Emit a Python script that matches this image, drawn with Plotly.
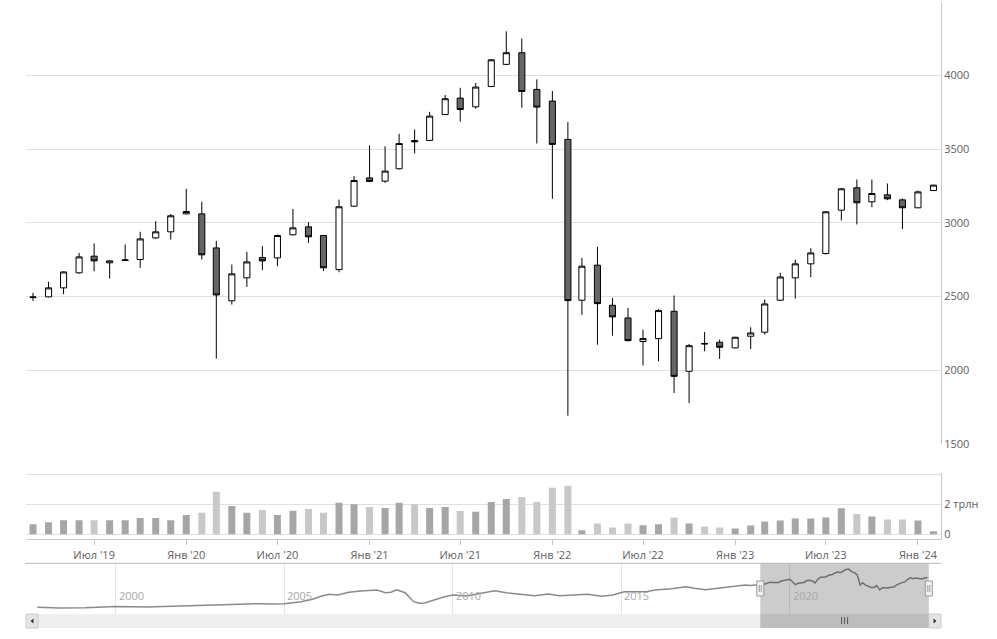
import pandas as pd
import plotly.graph_objects as go

# monthly candles, MOEX index, Mar 2019 - Feb 2024
months = pd.date_range("2019-03-01", "2024-02-01", freq="MS")

open_ = [2493, 2498, 2559, 2661, 2774, 2729, 2745, 2751, 2898, 2939,
         3061, 3061, 2830, 2471, 2627, 2765, 2762, 2919, 2973, 2914,
         2683, 3113, 3305, 3283, 3367, 3558, 3559, 3735, 3846, 3787,
         3925, 4075, 4154, 3905, 3826, 3566, 2475, 2713, 2441, 2355,
         2195, 2215, 2400, 1993, 2182, 2190, 2152, 2231, 2258, 2475,
         2627, 2722, 2792, 3086, 3238, 3143, 3190, 3156, 3102, 3219]
high = [2525, 2600, 2670, 2796, 2860, 2745, 2853, 2939, 3011, 3061,
        3231, 3143, 2878, 2717, 2803, 2842, 2921, 3095, 3005, 2918,
        3158, 3317, 3525, 3520, 3604, 3633, 3753, 3867, 3916, 3950,
        4110, 4299, 4251, 3973, 3894, 3683, 2762, 2837, 2491, 2423,
        2276, 2416, 2507, 2179, 2260, 2208, 2227, 2292, 2480, 2661,
        2751, 2828, 3080, 3235, 3294, 3294, 3267, 3165, 3219, 3258]
low = [2470, 2495, 2516, 2655, 2672, 2622, 2742, 2695, 2891, 2887,
       3058, 2751, 2079, 2446, 2566, 2679, 2706, 2915, 2864, 2672,
       2665, 3108, 3276, 3271, 3362, 3471, 3555, 3730, 3686, 3774,
       3920, 4070, 3781, 3538, 3163, 1692, 2376, 2174, 2235, 2197,
       2032, 2061, 1846, 1778, 2129, 2077, 2150, 2145, 2242, 2470,
       2486, 2631, 2785, 3016, 2989, 3106, 3154, 2959, 3100, 3217]
close = [2497, 2559, 2667, 2769, 2742, 2742, 2748, 2891, 2939, 3048,
         3077, 2783, 2511, 2654, 2735, 2742, 2914, 2966, 2905, 2695,
         3109, 3287, 3281, 3351, 3538, 3550, 3724, 3842, 3769, 3921,
         4106, 4154, 3891, 3785, 3532, 2473, 2706, 2452, 2362, 2201,
         2215, 2405, 1959, 2167, 2179, 2156, 2224, 2253, 2450, 2633,
         2722, 2796, 3075, 3231, 3136, 3199, 3163, 3102, 3210, 3256]

# trading volume, trillion rub
volume = [0.67, 0.81, 0.94, 0.94, 0.94, 0.94, 0.94, 1.08, 1.08, 0.94,
          1.28, 1.44, 2.83, 1.89, 1.44, 1.62, 1.28, 1.57, 1.69, 1.44,
          2.11, 2.00, 1.82, 1.75, 2.11, 2.00, 1.75, 1.82, 1.55, 1.51,
          2.16, 2.36, 2.49, 2.16, 3.10, 3.24, 0.27, 0.72, 0.45, 0.72,
          0.61, 0.67, 1.12, 0.72, 0.52, 0.45, 0.38, 0.58, 0.85, 0.92,
          1.06, 1.06, 1.12, 1.73, 1.35, 1.19, 0.99, 0.99, 0.92, 0.20]

tick_dates = ["2019-07-01", "2020-01-01", "2020-07-01", "2021-01-01", "2021-07-01",
              "2022-01-01", "2022-07-01", "2023-01-01", "2023-07-01", "2024-01-01"]
tick_labels = ["Июл '19", "Янв '20", "Июл '20", "Янв '21", "Июл '21",
               "Янв '22", "Июл '22", "Янв '23", "Июл '23", "Янв '24"]

# navigator history before the candles
hist_dates = ["1997-09", "1998-05", "1999-02", "2000-01", "2000-12", "2001-08", "2002-04",
              "2003-02", "2003-08", "2004-04", "2004-08", "2005-01", "2005-07", "2005-11",
              "2006-02", "2006-05", "2006-08", "2006-12", "2007-04", "2007-10", "2008-01",
              "2008-03", "2008-05", "2008-08", "2008-11", "2009-01", "2009-03", "2009-06",
              "2009-10", "2010-01", "2010-06", "2010-11", "2011-04", "2011-08", "2012-01",
              "2012-06", "2012-11", "2013-03", "2013-08", "2014-01", "2014-06", "2014-10",
              "2015-02", "2015-07", "2015-10", "2016-01", "2016-07", "2016-12", "2017-03",
              "2017-07", "2017-12", "2018-05", "2018-09", "2018-11"]
hist_close = [100, 40, 70, 180, 140, 220, 260,
              330, 400, 490, 456, 488, 700, 954,
              1272, 1484, 1410, 1696, 1834, 1940, 1654,
              1700, 1972, 1650, 700, 530, 560, 880,
              1230, 1410, 1300, 1590, 1865, 1654, 1484,
              1336, 1516, 1336, 1410, 1484, 1272, 1410,
              1760, 1728, 1760, 1940, 2078, 2290, 2120,
              1972, 2152, 2364, 2470, 2430]

nav_years = [2000, 2005, 2010, 2015, 2020]

x_start, x_end = "2019-02-15", "2024-02-16"

W, H = 997, 639


def fx(p):
    return p / W


def fy(p):
    return 1 - p / H


font = dict(family="Open Sans, DejaVu Sans, sans-serif", size=11, color="#606060")
vol_colors = ["#a6a6a6" if c >= o else "#c8c8c8" for o, c in zip(open_, close)]

fig = go.Figure()
fig.add_trace(go.Candlestick(
    x=months, open=open_, high=high, low=low, close=close,
    increasing=dict(fillcolor="white", line=dict(color="black", width=1)),
    decreasing=dict(fillcolor="#666666", line=dict(color="black", width=1)),
    whiskerwidth=0, xaxis="x", yaxis="y"))
fig.add_trace(go.Bar(
    x=months, y=volume, marker=dict(color=vol_colors, line=dict(width=0)),
    width=14 * 86400000, xaxis="x2", yaxis="y2"))
fig.add_trace(go.Scatter(
    x=pd.to_datetime(hist_dates).append(months), y=hist_close + close,
    mode="lines", line=dict(color="#8a8a8a", width=1.5), xaxis="x3", yaxis="y3"))

dom_x = [fx(26), fx(941)]
fig.update_layout(
    template="none", width=W, height=H, showlegend=False,
    margin=dict(l=0, r=0, t=0, b=0),
    paper_bgcolor="white", plot_bgcolor="white", boxgap=0.38,
    font=font,
    xaxis=dict(domain=dom_x, anchor="y", type="date", range=[x_start, x_end],
               showticklabels=False, showgrid=False, zeroline=False, showline=False,
               ticks="", rangeslider=dict(visible=False)),
    yaxis=dict(domain=[fy(444), fy(1.7)], anchor="x", side="right", range=[1500, 4500],
               tickvals=[1500, 2000, 2500, 3000, 3500, 4000, 4500],
               ticktext=["1500", "2000", "2500", "3000", "3500", "4000", ""],
               showgrid=True, gridcolor="#e0e0e0", gridwidth=1, zeroline=False,
               showline=True, linecolor="#c8c8c8", ticks="", tickfont=font),
    xaxis2=dict(domain=dom_x, anchor="y2", type="date", matches="x",
                tickvals=tick_dates, ticktext=tick_labels, ticks="outside", ticklen=5,
                tickcolor="#c8c8c8", showline=True, linecolor="#c8c8c8",
                showgrid=False, zeroline=False, tickfont=font),
    yaxis2=dict(domain=[fy(539.3), fy(473.3)], anchor="x2", side="right",
                range=[-0.333, 4.067], tickvals=[0, 2, 4], ticktext=["0", "2 трлн", ""],
                showgrid=True, gridcolor="#e0e0e0", zeroline=False,
                showline=True, linecolor="#c8c8c8", ticks="", tickfont=font),
    xaxis3=dict(domain=dom_x, anchor="y3", type="date", range=["1997-05-01", "2024-06-27"],
                tickvals=[f"{y}-01-01" for y in nav_years], showticklabels=False,
                showgrid=True, gridcolor="#e6e6e6", zeroline=False, showline=False, ticks=""),
    yaxis3=dict(domain=[fy(614), fy(563.3)], anchor="x3", range=[-604, 4770], visible=False),
)

for y in nav_years:
    fig.add_annotation(x=f"{y}-01-01", xref="x3", y=fy(605), yref="paper",
                       text=str(y), showarrow=False, xanchor="left", xshift=1,
                       font=dict(family=font["family"], size=11, color="#a8a8a8"))

shapes = [
    # navigator top border
    dict(type="line", xref="paper", yref="paper", x0=fx(25), x1=fx(941), y0=fy(563.3), y1=fy(563.3),
         line=dict(color="#b8b8b8", width=1)),
    # scrollbar track
    dict(type="rect", xref="paper", yref="paper", x0=fx(26), x1=fx(941), y0=fy(628), y1=fy(614),
         fillcolor="#efefef", line=dict(width=0), layer="below"),
    # selected range
    dict(type="rect", xref="x3", yref="paper", x0=x_start, x1=x_end, y0=fy(614), y1=fy(563.8),
         fillcolor="rgba(0,0,0,0.2)", line=dict(width=0)),
    # scrollbar thumb
    dict(type="rect", xref="x3", yref="paper", x0=x_start, x1=x_end, y0=fy(628), y1=fy(614),
         fillcolor="#bdbdbd", line=dict(width=0)),
    # scroll buttons
    dict(type="rect", xref="paper", yref="paper", x0=fx(26), x1=fx(38), y0=fy(628), y1=fy(614),
         fillcolor="#e4e4e4", line=dict(color="#cccccc", width=1)),
    dict(type="rect", xref="paper", yref="paper", x0=fx(929), x1=fx(941), y0=fy(628), y1=fy(614),
         fillcolor="#e4e4e4", line=dict(color="#cccccc", width=1)),
    dict(type="path", xref="paper", yref="paper",
         path=f"M {fx(33.5)} {fy(618.5)} L {fx(33.5)} {fy(623.5)} L {fx(30.5)} {fy(621)} Z",
         fillcolor="#333333", line=dict(width=0)),
    dict(type="path", xref="paper", yref="paper",
         path=f"M {fx(933.5)} {fy(618.5)} L {fx(933.5)} {fy(623.5)} L {fx(936.5)} {fy(621)} Z",
         fillcolor="#333333", line=dict(width=0)),
]
# thumb grip
for dx in (-3, 0, 3):
    shapes.append(dict(type="line", xref="x3", yref="paper", xsizemode="pixel", xanchor="2021-08-17",
                       x0=dx, x1=dx, y0=fy(624), y1=fy(617), line=dict(color="#555555", width=1)))
# navigator handles
for xa in (x_start, x_end):
    shapes.append(dict(type="rect", xref="x3", yref="paper", xsizemode="pixel", xanchor=xa,
                       x0=-3.5, x1=3.5, y0=fy(596), y1=fy(581),
                       fillcolor="#f2f2f2", line=dict(color="#999999", width=1)))
    for dx in (-1, 1):
        shapes.append(dict(type="line", xref="x3", yref="paper", xsizemode="pixel", xanchor=xa,
                           x0=dx, x1=dx, y0=fy(592), y1=fy(585), line=dict(color="#999999", width=1)))

fig.update_layout(shapes=shapes)

# page body has a default 8px margin; drop it so the chart sits at the window corner
fig.write_html("out.html", config={"displayModeBar": False},
               post_script="document.body.style.margin='0';")
